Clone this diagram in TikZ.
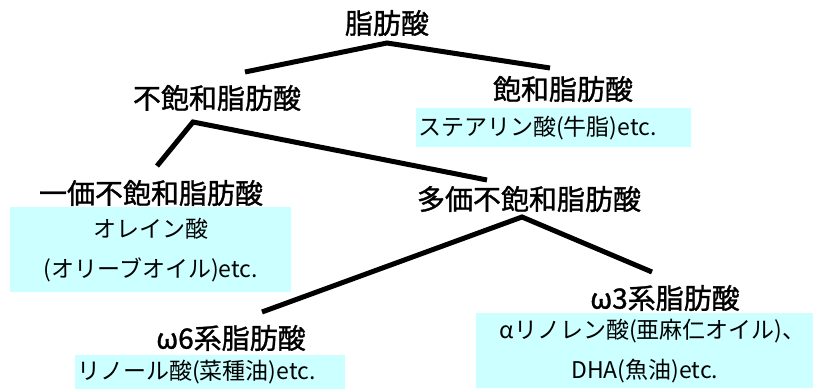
\documentclass[tikz,border=0pt]{standalone}
\usepackage{fontspec}
\setmainfont{Noto Sans CJK JP}
\newfontfamily\headfont{Noto Sans CJK JP}[FakeBold=1.2]
\definecolor{boxcyan}{RGB}{204,255,255}
\tikzset{
  head/.style={inner sep=0pt, font=\fontsize{28}{30}\selectfont\headfont},
  subbox/.style={fill=boxcyan, inner sep=2pt, font=\fontsize{23}{40}\selectfont, anchor=north west},
  branch/.style={line width=5pt, line join=miter}
}
\begin{document}
\begin{tikzpicture}[x=1pt,y=-1pt]
\useasboundingbox (0,0) rectangle (815,390);
% headings
\node[head] (root) at (387,23) {脂肪酸};
\node[head] (unsat) at (217,98) {不飽和脂肪酸};
\node[head] (sat) at (563,89) {飽和脂肪酸};
\node[head] (mono) at (151,193) {一価不飽和脂肪酸};
\node[head] (poly) at (529,199) {多価不飽和脂肪酸};
\node[head] (w6) at (231,338) {\textit{ω}6系脂肪酸};
\node[head] (w3) at (665,298) {\textit{ω}3系脂肪酸};
% example boxes
\node[subbox, minimum width=275pt, minimum height=39pt, text width=271pt, align=left] (satbox) at (416,108) {ステアリン酸(牛脂)etc.};
\node[subbox, minimum width=281pt, minimum height=85pt, text width=277pt, align=center] (monobox) at (10,207) {オレイン酸\\(オリーブオイル)etc.};
\node[subbox, minimum width=270pt, minimum height=34pt, text width=266pt, align=left] (w6box) at (75,355) {リノール酸(菜種油)etc.};
\node[subbox, minimum width=337pt, minimum height=75pt, text width=333pt, align=center] (w3box) at (476,313) {\hspace*{16pt}\textit{α}リノレン酸(亜麻仁オイル)、\\DHA(魚油)etc.\hspace*{40pt}};
% branch points
\coordinate (rootP) at (387,43);
\coordinate (rootL) at (245,72);
\coordinate (rootR) at (550,68);
\coordinate (unsatP) at (193,122);
\coordinate (unsatL) at (157,166);
\coordinate (unsatR) at (487,180);
\coordinate (polyP) at (522,217);
\coordinate (polyL) at (262,312);
\coordinate (polyR) at (652,272);
\draw[branch] (rootL) -- (rootP) -- (rootR);
\draw[branch] (unsatL) -- (unsatP) -- (unsatR);
\draw[branch] (polyL) -- (polyP) -- (polyR);
\end{tikzpicture}
\end{document}
